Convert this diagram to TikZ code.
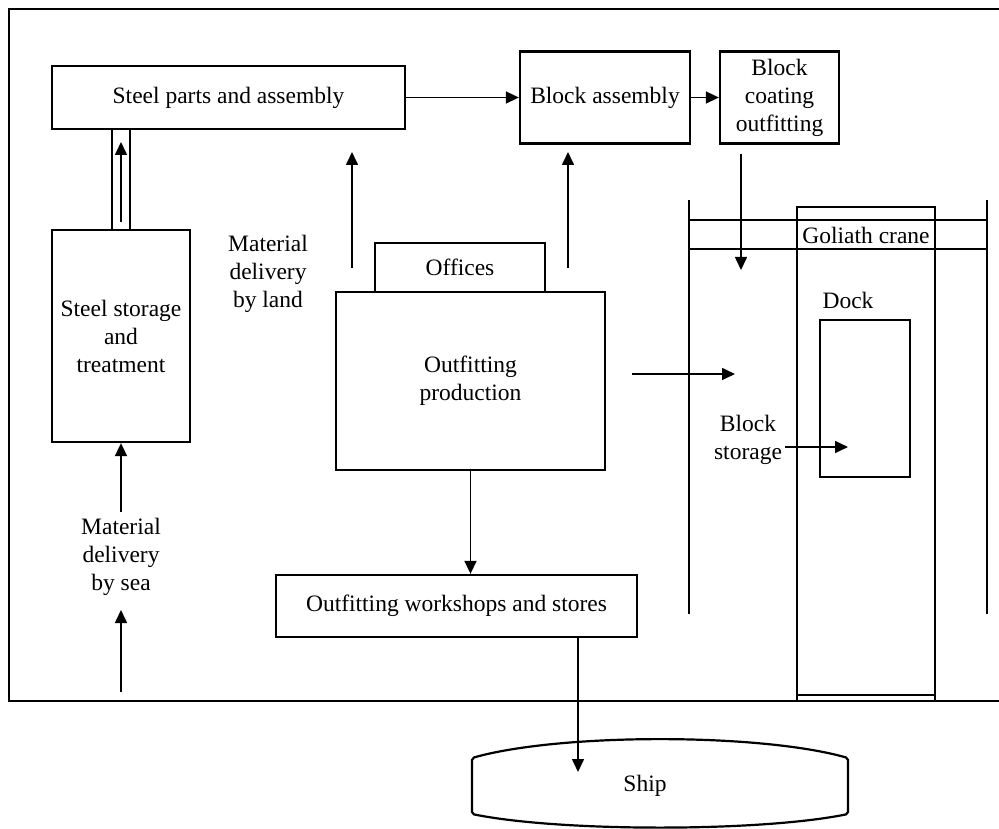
\documentclass[tikz,border=0pt]{standalone}
\usepackage{fontspec}
\setmainfont{Liberation Serif}
\usetikzlibrary{arrows.meta}
\begin{document}
\begin{tikzpicture}[x=1pt,y=-1pt,
  every node/.style={font=\fontsize{23.5}{28}\selectfont, align=center, inner sep=0pt},
  unit/.style={draw, line width=2.3pt, minimum width=#1},
  flow/.style={line width=1.6pt, -{Triangle[length=13pt,width=12pt]}},
  wall/.style={line width=2.4pt}]
\useasboundingbox (0,0) rectangle (999,829);

% site boundary
\draw[line width=2.8pt] (999,9) -- (9,9) -- (9,701) -- (999,701);

% steel line
\node[unit=353pt, minimum height=63pt] (parts) at (228.5,97.5) {Steel parts and assembly};
\node[draw, line width=2pt, minimum width=18pt, minimum height=101pt] (duct) at (121,179.5) {};
\node[unit=138pt, minimum height=212pt] (storage) at (121,336) {Steel storage\\and\\treatment};
\node (sea) at (121,557) {Material\\delivery\\by sea};
\node (land) at (268,274) {Material\\delivery\\by land};

% block line
\node[unit=170pt, minimum height=92pt] (block) at (605,97.5) {Block assembly};
\node[unit=119pt, minimum height=92pt] (coat) at (779.5,97.5) {Block\\coating\\outfitting};

% outfitting
\node[unit=170pt, minimum height=49pt] (offices) at (460,267.5) {Offices};
\node[unit=269pt, minimum height=178pt] (outfit) at (470.5,381) {Outfitting\\production};
\node[unit=361pt, minimum height=62pt] (shops) at (456.5,606) {Outfitting workshops and stores};

% goliath crane and dock
\node[unit=138pt, minimum height=494pt] (dockpit) at (866,454) {};
\draw[line width=1.5pt] (797,695) -- (935,695);
\draw[wall] (689,200) -- (689,614);
\draw[wall] (987,200) -- (987,614);
\draw[wall] (689,220) -- (987,220);
\draw[wall] (689,249) -- (987,249);
\node[fill=white, inner xsep=2pt] (crane) at (866,235) {Goliath crane};
\node (docklbl) at (848,300) {Dock};
\node[unit=90pt, minimum height=157pt] (berth) at (865,398.5) {};
\node (blockstore) at (748,440) {Block\\storage};

% ship
\draw[line width=2.2pt, rounded corners=2pt] (472,758) .. controls (560,733) and (760,733) .. (848,758)
  -- (848,814) .. controls (760,832) and (560,832) .. (472,814) -- cycle;
\node (ship) at (645,786) {Ship};

% free ends of connectors
\coordinate (ductbot) at (121,222);
\coordinate (ducttop) at (121,142);
\coordinate (seatop) at (121,512);
\coordinate (seabot) at (121,692);
\coordinate (seatip) at (121,610);
\coordinate (landbot) at (352,268);
\coordinate (landtip) at (352,152);
\coordinate (offbot) at (568,268);
\coordinate (offtip) at (568,152);
\coordinate (coatbot) at (741,154);
\coordinate (yardtip) at (741,270);
\coordinate (outE) at (632,374);
\coordinate (yardE) at (735,374);
\coordinate (storeE) at (785,447);
\coordinate (berthtip) at (848,447);
\coordinate (shiptip) at (578,772);

% connectors
\draw[flow] (ductbot) -- (ducttop);
\draw[flow] (seatop) -- (storage.south);
\draw[flow] (seabot) -- (seatip);
\draw[flow] (landbot) -- (landtip);
\draw[flow] (offbot) -- (offtip);
\draw[flow] (parts.east) -- (parts.east -| block.west);
\draw[flow] (block.east) -- (coat.west);
\draw[flow] (coatbot) -- (yardtip);
\draw[flow] (outfit.south) -- (outfit.south |- shops.north);
\draw[flow] (shops.south -| shiptip) -- (shiptip);
\draw[flow] (outE) -- (yardE);
\draw[flow] (storeE) -- (berthtip);
\end{tikzpicture}
\end{document}
